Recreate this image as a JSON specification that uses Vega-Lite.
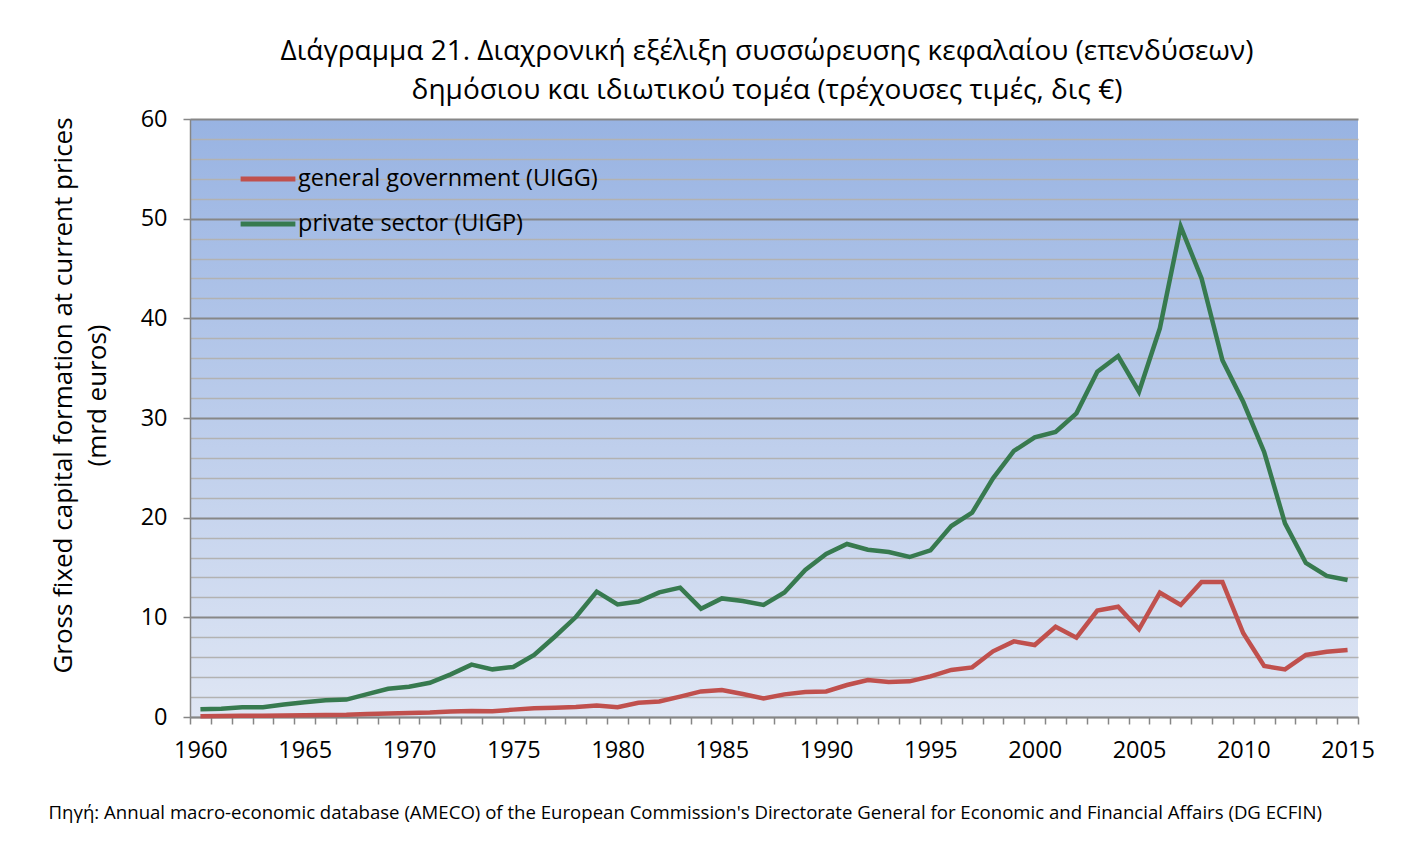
{
  "$schema": "https://vega.github.io/schema/vega-lite/v6.json",
  "width": 1168,
  "height": 598,
  "autosize": "none",
  "padding": {"left": 190, "top": 119, "right": 66, "bottom": 125},
  "background": "white",
  "title": {
    "text": ["Διάγραμμα 21. Διαχρονική εξέλιξη συσσώρευσης κεφαλαίου (επενδύσεων)", "δημόσιου και ιδιωτικού τομέα (τρέχουσες τιμές, δις €)"],
    "font": "Open Sans",
    "fontSize": 28,
    "fontWeight": "normal",
    "color": "#000000",
    "lineHeight": 39,
    "anchor": "middle",
    "frame": "group",
    "dx": -7,
    "offset": 2
  },
  "config": {
    "view": {
      "stroke": null,
      "fill": {
        "gradient": "linear",
        "x1": 0, "y1": 1, "x2": 0, "y2": 0,
        "stops": [
          {"offset": 0, "color": "#dfe6f4"},
          {"offset": 1, "color": "#98b3e2"}
        ]
      }
    },
    "axis": {"labelFont": "Open Sans", "titleFont": "Open Sans", "labelColor": "#000000", "titleColor": "#000000"}
  },
  "data": {
    "values": [
      {"year": 1960, "series": "general government (UIGG)", "value": 0.07},
      {"year": 1961, "series": "general government (UIGG)", "value": 0.1},
      {"year": 1962, "series": "general government (UIGG)", "value": 0.13},
      {"year": 1963, "series": "general government (UIGG)", "value": 0.13},
      {"year": 1964, "series": "general government (UIGG)", "value": 0.15},
      {"year": 1965, "series": "general government (UIGG)", "value": 0.17},
      {"year": 1966, "series": "general government (UIGG)", "value": 0.2},
      {"year": 1967, "series": "general government (UIGG)", "value": 0.22},
      {"year": 1968, "series": "general government (UIGG)", "value": 0.3},
      {"year": 1969, "series": "general government (UIGG)", "value": 0.34},
      {"year": 1970, "series": "general government (UIGG)", "value": 0.4},
      {"year": 1971, "series": "general government (UIGG)", "value": 0.44},
      {"year": 1972, "series": "general government (UIGG)", "value": 0.54},
      {"year": 1973, "series": "general government (UIGG)", "value": 0.6},
      {"year": 1974, "series": "general government (UIGG)", "value": 0.57},
      {"year": 1975, "series": "general government (UIGG)", "value": 0.74},
      {"year": 1976, "series": "general government (UIGG)", "value": 0.88},
      {"year": 1977, "series": "general government (UIGG)", "value": 0.94},
      {"year": 1978, "series": "general government (UIGG)", "value": 1.0},
      {"year": 1979, "series": "general government (UIGG)", "value": 1.15},
      {"year": 1980, "series": "general government (UIGG)", "value": 0.98},
      {"year": 1981, "series": "general government (UIGG)", "value": 1.43},
      {"year": 1982, "series": "general government (UIGG)", "value": 1.55},
      {"year": 1983, "series": "general government (UIGG)", "value": 2.04},
      {"year": 1984, "series": "general government (UIGG)", "value": 2.57},
      {"year": 1985, "series": "general government (UIGG)", "value": 2.71},
      {"year": 1986, "series": "general government (UIGG)", "value": 2.3},
      {"year": 1987, "series": "general government (UIGG)", "value": 1.87},
      {"year": 1988, "series": "general government (UIGG)", "value": 2.27},
      {"year": 1989, "series": "general government (UIGG)", "value": 2.51},
      {"year": 1990, "series": "general government (UIGG)", "value": 2.57},
      {"year": 1991, "series": "general government (UIGG)", "value": 3.21},
      {"year": 1992, "series": "general government (UIGG)", "value": 3.71},
      {"year": 1993, "series": "general government (UIGG)", "value": 3.51},
      {"year": 1994, "series": "general government (UIGG)", "value": 3.58},
      {"year": 1995, "series": "general government (UIGG)", "value": 4.08},
      {"year": 1996, "series": "general government (UIGG)", "value": 4.72},
      {"year": 1997, "series": "general government (UIGG)", "value": 4.98},
      {"year": 1998, "series": "general government (UIGG)", "value": 6.59},
      {"year": 1999, "series": "general government (UIGG)", "value": 7.59},
      {"year": 2000, "series": "general government (UIGG)", "value": 7.22},
      {"year": 2001, "series": "general government (UIGG)", "value": 9.06},
      {"year": 2002, "series": "general government (UIGG)", "value": 7.96},
      {"year": 2003, "series": "general government (UIGG)", "value": 10.67},
      {"year": 2004, "series": "general government (UIGG)", "value": 11.07},
      {"year": 2005, "series": "general government (UIGG)", "value": 8.8},
      {"year": 2006, "series": "general government (UIGG)", "value": 12.47},
      {"year": 2007, "series": "general government (UIGG)", "value": 11.24},
      {"year": 2008, "series": "general government (UIGG)", "value": 13.55},
      {"year": 2009, "series": "general government (UIGG)", "value": 13.55},
      {"year": 2010, "series": "general government (UIGG)", "value": 8.4},
      {"year": 2011, "series": "general government (UIGG)", "value": 5.12},
      {"year": 2012, "series": "general government (UIGG)", "value": 4.78},
      {"year": 2013, "series": "general government (UIGG)", "value": 6.22},
      {"year": 2014, "series": "general government (UIGG)", "value": 6.55},
      {"year": 2015, "series": "general government (UIGG)", "value": 6.72},
      {"year": 1960, "series": "private sector (UIGP)", "value": 0.77},
      {"year": 1961, "series": "private sector (UIGP)", "value": 0.84},
      {"year": 1962, "series": "private sector (UIGP)", "value": 0.98},
      {"year": 1963, "series": "private sector (UIGP)", "value": 0.98},
      {"year": 1964, "series": "private sector (UIGP)", "value": 1.25},
      {"year": 1965, "series": "private sector (UIGP)", "value": 1.48},
      {"year": 1966, "series": "private sector (UIGP)", "value": 1.68},
      {"year": 1967, "series": "private sector (UIGP)", "value": 1.75},
      {"year": 1968, "series": "private sector (UIGP)", "value": 2.29},
      {"year": 1969, "series": "private sector (UIGP)", "value": 2.83},
      {"year": 1970, "series": "private sector (UIGP)", "value": 3.03},
      {"year": 1971, "series": "private sector (UIGP)", "value": 3.43},
      {"year": 1972, "series": "private sector (UIGP)", "value": 4.28},
      {"year": 1973, "series": "private sector (UIGP)", "value": 5.25},
      {"year": 1974, "series": "private sector (UIGP)", "value": 4.78},
      {"year": 1975, "series": "private sector (UIGP)", "value": 5.02},
      {"year": 1976, "series": "private sector (UIGP)", "value": 6.23},
      {"year": 1977, "series": "private sector (UIGP)", "value": 8.08},
      {"year": 1978, "series": "private sector (UIGP)", "value": 10.03},
      {"year": 1979, "series": "private sector (UIGP)", "value": 12.58},
      {"year": 1980, "series": "private sector (UIGP)", "value": 11.3},
      {"year": 1981, "series": "private sector (UIGP)", "value": 11.58},
      {"year": 1982, "series": "private sector (UIGP)", "value": 12.5},
      {"year": 1983, "series": "private sector (UIGP)", "value": 12.98},
      {"year": 1984, "series": "private sector (UIGP)", "value": 10.87},
      {"year": 1985, "series": "private sector (UIGP)", "value": 11.9},
      {"year": 1986, "series": "private sector (UIGP)", "value": 11.64},
      {"year": 1987, "series": "private sector (UIGP)", "value": 11.24},
      {"year": 1988, "series": "private sector (UIGP)", "value": 12.5},
      {"year": 1989, "series": "private sector (UIGP)", "value": 14.75},
      {"year": 1990, "series": "private sector (UIGP)", "value": 16.35},
      {"year": 1991, "series": "private sector (UIGP)", "value": 17.36},
      {"year": 1992, "series": "private sector (UIGP)", "value": 16.79},
      {"year": 1993, "series": "private sector (UIGP)", "value": 16.55},
      {"year": 1994, "series": "private sector (UIGP)", "value": 16.05},
      {"year": 1995, "series": "private sector (UIGP)", "value": 16.72},
      {"year": 1996, "series": "private sector (UIGP)", "value": 19.16},
      {"year": 1997, "series": "private sector (UIGP)", "value": 20.5},
      {"year": 1998, "series": "private sector (UIGP)", "value": 23.95},
      {"year": 1999, "series": "private sector (UIGP)", "value": 26.69},
      {"year": 2000, "series": "private sector (UIGP)", "value": 28.06},
      {"year": 2001, "series": "private sector (UIGP)", "value": 28.6},
      {"year": 2002, "series": "private sector (UIGP)", "value": 30.47},
      {"year": 2003, "series": "private sector (UIGP)", "value": 34.65},
      {"year": 2004, "series": "private sector (UIGP)", "value": 36.22},
      {"year": 2005, "series": "private sector (UIGP)", "value": 32.64},
      {"year": 2006, "series": "private sector (UIGP)", "value": 39.0},
      {"year": 2007, "series": "private sector (UIGP)", "value": 49.2},
      {"year": 2008, "series": "private sector (UIGP)", "value": 44.0},
      {"year": 2009, "series": "private sector (UIGP)", "value": 35.8},
      {"year": 2010, "series": "private sector (UIGP)", "value": 31.6},
      {"year": 2011, "series": "private sector (UIGP)", "value": 26.6},
      {"year": 2012, "series": "private sector (UIGP)", "value": 19.43},
      {"year": 2013, "series": "private sector (UIGP)", "value": 15.45},
      {"year": 2014, "series": "private sector (UIGP)", "value": 14.16},
      {"year": 2015, "series": "private sector (UIGP)", "value": 13.75}
    ]
  },
  "mark": {"type": "line", "strokeWidth": 4.5, "strokeCap": "butt", "strokeJoin": "miter"},
  "encoding": {
    "x": {
      "field": "year",
      "type": "quantitative",
      "scale": {"domain": [1959.5, 2015.5], "nice": false, "zero": false},
      "axis": {
        "values": [1959.5, 1960.5, 1961.5, 1962.5, 1963.5, 1964.5, 1965.5, 1966.5, 1967.5, 1968.5, 1969.5, 1970.5, 1971.5, 1972.5, 1973.5, 1974.5, 1975.5, 1976.5, 1977.5, 1978.5, 1979.5, 1980.5, 1981.5, 1982.5, 1983.5, 1984.5, 1985.5, 1986.5, 1987.5, 1988.5, 1989.5, 1990.5, 1991.5, 1992.5, 1993.5, 1994.5, 1995.5, 1996.5, 1997.5, 1998.5, 1999.5, 2000.5, 2001.5, 2002.5, 2003.5, 2004.5, 2005.5, 2006.5, 2007.5, 2008.5, 2009.5, 2010.5, 2011.5, 2012.5, 2013.5, 2014.5, 2015.5],
        "labelExpr": "(datum.value + 0.5) % 5 === 0 ? format(datum.value + 0.5, 'd') : ''",
        "labelOffset": 10.43,
        "labelOverlap": false,
        "labelFlush": false,
        "labelBound": false,
        "labelFontSize": 23.5,
        "labelPadding": 14,
        "grid": false,
        "ticks": true,
        "tickSize": 7,
        "tickColor": "#868686",
        "tickWidth": 1.5,
        "domainColor": "#868686",
        "domainWidth": 1.5,
        "title": "Πηγή: Annual macro-economic database (AMECO) of the European Commission's Directorate General for Economic and Financial Affairs (DG ECFIN)",
        "titleFontSize": 18.6,
        "titleFontWeight": "normal",
        "titleAlign": "left",
        "titleAnchor": "start",
        "titleBaseline": "alphabetic",
        "titleX": -142,
        "titleY": 101
      }
    },
    "y": {
      "field": "value",
      "type": "quantitative",
      "scale": {"domain": [0, 60], "nice": false},
      "axis": {
        "values": [0, 2, 4, 6, 8, 10, 12, 14, 16, 18, 20, 22, 24, 26, 28, 30, 32, 34, 36, 38, 40, 42, 44, 46, 48, 50, 52, 54, 56, 58, 60],
        "labelExpr": "datum.value % 10 === 0 ? datum.label : ''",
        "labelFontSize": 23.5,
        "labelPadding": 16,
        "labelOverlap": false,
        "labelFlush": false,
        "tickSize": 7,
        "tickColor": "#868686",
        "tickWidth": 1.5,
        "tickOpacity": {"condition": {"test": "datum.value % 10 === 0", "value": 1}, "value": 0},
        "grid": true,
        "gridColor": {"condition": {"test": "datum.value % 10 === 0", "value": "#878787"}, "value": "#b2b2b2"},
        "gridWidth": {"condition": {"test": "datum.value % 10 === 0", "value": 2}, "value": 1.6},
        "domainColor": "#868686",
        "domainWidth": 1.5,
        "title": ["Gross  fixed capital formation at current prices", "(mrd euros)"],
        "titleFontSize": 26,
        "titleFontWeight": "normal",
        "titleLineHeight": 34,
        "titleAngle": -90,
        "titleAlign": "center",
        "titleBaseline": "bottom",
        "titleX": -114,
        "titleY": 276
      }
    },
    "color": {
      "field": "series",
      "type": "nominal",
      "scale": {"domain": ["general government (UIGG)", "private sector (UIGP)"], "range": ["#c0504d", "#377a4f"]},
      "legend": {
        "title": null,
        "orient": "none",
        "legendX": 48,
        "legendY": 30,
        "symbolType": "stroke",
        "symbolSize": 3000,
        "symbolStrokeWidth": 5,
        "labelFont": "Open Sans",
        "labelFontSize": 23.5,
        "labelColor": "#000000",
        "labelOffset": 0,
        "rowPadding": 3,
        "labelLimit": 600
      }
    }
  }
}
